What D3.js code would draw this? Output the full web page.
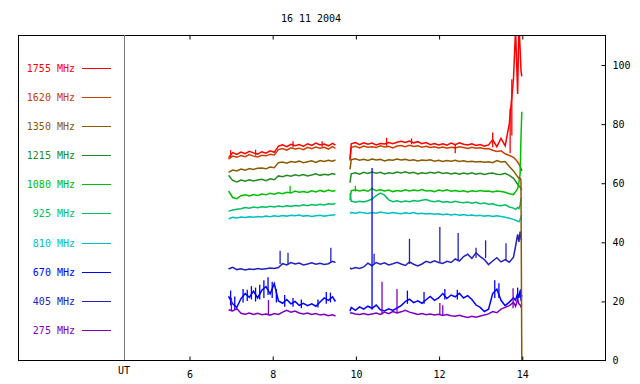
<!DOCTYPE html>
<html>
<head>
<meta charset="utf-8">
<script src="https://cdn.jsdelivr.net/npm/d3@7"></script>
<style>
  html, body { margin: 0; padding: 0; background: #fff; }
  svg { display: block; }
  text { font-family: "DejaVu Sans Mono", monospace; font-size: 10px; }
</style>
</head>
<body>
<svg id="chart" width="640" height="384"></svg>
<script>
// ---------------- DATA ----------------
const title = "16 11 2004";
const xTicks = [6, 8, 10, 12, 14];
const yTicks = [0, 20, 40, 60, 80, 100];

const legendNames = ["1755 MHz", "1620 MHz", "1350 MHz", "1215 MHz", "1080 MHz",
                     "925 MHz", "810 MHz", "670 MHz", "405 MHz", "275 MHz"];
const legendColors = ["#ff0000", "#c84000", "#8b5a00", "#228b22", "#00c000",
                      "#00c060", "#00c0c0", "#0000ff", "#2222c0", "#8000c0"];

// time grid (UT hours) of the two observing segments
const hours1 = [6.95, 7.05, 7.15, 7.25, 7.35, 7.45, 7.55, 7.65, 7.75, 7.85, 7.95, 8.05, 8.15, 8.25,
                8.35, 8.45, 8.55, 8.65, 8.75, 8.85, 8.95, 9.05, 9.15, 9.25, 9.35, 9.45, 9.52];
const hours2 = [9.87, 9.9, 10.0, 10.1, 10.2, 10.3, 10.4, 10.5, 10.6, 10.7, 10.8, 10.9, 11.0, 11.1,
                11.2, 11.3, 11.4, 11.5, 11.6, 11.7, 11.8, 11.9, 12.0, 12.1, 12.2, 12.3, 12.4, 12.5,
                12.6, 12.7, 12.8, 12.9, 13.0, 13.1, 13.2, 13.3, 13.4, 13.5, 13.6, 13.7, 13.8, 13.85,
                13.9, 13.93, 13.96, 13.98, 14.0];

// flux values (s.f.u.)
const f1755a = [68.5, 70.2, 69.6, 70.4, 69.8, 70.6, 70.1, 69.7, 70.5, 70.0, 70.8, 70.3, 72.4, 72.8,
                72.2, 73.0, 72.5, 72.9, 72.3, 73.2, 72.6, 73.4, 72.8, 73.1, 72.5, 73.3, 72.7];
const f1755b = [68.0, 73.2, 73.6, 72.9, 73.5, 73.0, 73.4, 72.8, 73.3, 73.1, 73.6, 73.2, 73.7, 74.0,
                73.6, 74.1, 73.5, 73.9, 73.2, 73.6, 72.9, 73.3, 72.8, 73.2, 72.7, 73.4, 72.9, 73.5,
                73.0, 72.8, 73.2, 72.6, 72.9, 72.4, 72.8, 74.5, 72.2, 75.0, 72.5, 80.0, 95.0, 112.0,
                90.0, 114.0, 105.0, 98.0, 96.0];
const f1620a = [68.0, 69.0, 68.6, 69.2, 68.8, 69.5, 69.0, 68.7, 69.3, 69.1, 69.6, 69.4, 71.2, 71.6,
                71.0, 71.8, 71.4, 71.7, 71.2, 72.0, 71.5, 72.1, 71.7, 72.0, 71.4, 72.2, 71.6];
const f1620b = [67.5, 72.0, 72.3, 71.8, 72.4, 72.0, 72.2, 71.9, 72.5, 72.1, 72.3, 71.8, 72.4, 72.6,
                72.2, 72.7, 72.3, 72.5, 72.0, 72.3, 71.9, 72.2, 71.8, 72.1, 71.7, 72.0, 71.8, 72.2,
                71.9, 71.6, 72.0, 71.7, 71.8, 71.5, 71.6, 71.0, 70.6, 70.8, 69.8, 69.2, 68.6, 67.9,
                67.0, 66.3, 65.5, 64.8, 64.0];
const f1350a = [63.5, 64.3, 64.0, 64.6, 64.2, 64.8, 64.5, 64.9, 65.0, 64.7, 65.3, 65.1, 66.8, 67.0,
                66.6, 67.2, 66.9, 67.3, 66.8, 67.1, 67.4, 66.9, 67.5, 67.2, 67.6, 67.3, 67.7];
const f1350b = [64.5, 67.8, 68.1, 67.6, 67.9, 67.5, 68.0, 67.7, 67.9, 67.4, 67.8, 67.6, 68.0, 67.7,
                67.9, 67.5, 67.8, 67.4, 67.7, 67.5, 67.8, 67.3, 67.6, 67.2, 67.5, 67.3, 67.6, 67.2,
                67.4, 67.1, 67.3, 67.0, 67.2, 66.9, 67.1, 66.8, 67.5, 67.0, 67.2, 65.5, 64.0, 63.0,
                62.0, 61.5, 61.5, 61.0, 0.0];
const f1215a = [62.5, 60.8, 60.3, 60.9, 60.5, 61.0, 60.6, 60.9, 61.2, 60.7, 61.3, 61.0, 62.3, 62.0,
                62.5, 62.2, 62.7, 62.4, 62.8, 62.3, 62.6, 63.0, 62.5, 62.9, 62.6, 63.1, 62.8];
const f1215b = [60.0, 63.0, 63.4, 62.9, 63.5, 63.1, 63.6, 63.2, 63.5, 63.0, 63.4, 63.1, 63.6, 63.3,
                63.7, 63.2, 63.5, 63.0, 63.4, 63.1, 63.5, 63.2, 63.6, 63.1, 63.4, 63.0, 63.3, 62.9,
                63.3, 63.0, 63.4, 62.9, 63.2, 62.8, 63.1, 63.3, 62.9, 62.8, 63.2, 62.5, 61.5, 60.5,
                59.5, 59.0, 58.5, 58.0, 57.5];
const f1080a = [57.2, 55.0, 54.6, 55.6, 55.9, 55.5, 56.0, 55.7, 56.2, 55.9, 56.4, 56.1, 56.6, 56.3,
                56.8, 56.5, 57.2, 56.8, 57.0, 56.7, 57.3, 56.9, 57.4, 57.0, 57.5, 57.1, 57.4];
const f1080b = [54.0, 57.3, 57.6, 57.2, 57.5, 57.1, 58.0, 57.3, 57.6, 57.2, 57.5, 57.0, 57.4, 57.1,
                57.6, 57.2, 57.5, 57.3, 57.7, 57.2, 57.4, 57.0, 57.5, 57.2, 57.6, 57.1, 57.4, 57.0,
                57.3, 56.9, 57.3, 57.0, 57.4, 57.1, 57.2, 56.9, 57.2, 57.0, 56.8, 56.3, 56.0, 57.0,
                58.0, 60.0, 63.0, 75.0, 84.0];
const f925a  = [50.3, 50.8, 51.0, 51.2, 51.6, 51.4, 51.8, 51.5, 51.9, 51.7, 52.0, 51.8, 52.1, 51.9,
                52.2, 52.0, 52.3, 52.1, 52.5, 52.2, 52.6, 52.4, 52.7, 52.5, 52.9, 52.7, 53.0];
const f925b  = [56.5, 53.8, 53.4, 53.7, 53.5, 53.9, 54.5, 55.6, 56.5, 55.8, 54.2, 53.6, 53.9, 53.5,
                53.8, 53.6, 54.0, 53.7, 54.1, 54.3, 53.8, 53.6, 53.9, 53.4, 53.6, 53.3, 53.7, 53.4,
                53.2, 53.5, 53.1, 53.4, 52.9, 53.1, 52.7, 52.9, 52.4, 52.2, 52.5, 51.8, 51.4, 51.0,
                51.6, 51.2, 52.5, 54.5, 55.0];
const f810a  = [47.8, 48.3, 48.1, 48.4, 48.2, 48.5, 48.3, 48.6, 48.4, 48.7, 48.5, 48.8, 48.6, 48.9,
                48.7, 49.0, 48.8, 49.1, 48.7, 48.9, 48.6, 48.8, 49.0, 48.7, 48.9, 49.1, 49.2];
const f810b  = [49.6, 49.9, 49.7, 50.0, 49.8, 49.6, 49.9, 49.7, 50.1, 49.8, 49.6, 49.9, 49.7, 49.5,
                49.8, 49.6, 49.9, 49.5, 49.7, 49.4, 49.6, 49.3, 49.5, 49.2, 49.4, 49.1, 49.3, 49.0,
                49.2, 48.9, 49.1, 48.8, 49.0, 48.7, 48.9, 48.6, 48.8, 48.6, 48.3, 48.0, 47.6, 47.3,
                47.0, 46.8, 47.5, 48.5, 49.0];
const f670a  = [21.5, 19.0, 17.8, 20.8, 22.5, 21.2, 23.3, 21.0, 23.6, 24.8, 22.4, 25.8, 20.0, 19.2,
                20.5, 19.0, 19.8, 18.5, 19.2, 18.4, 19.0, 18.2, 19.6, 21.0, 20.2, 21.4, 19.8];
const f670b  = [16.5, 17.8, 16.8, 18.0, 17.2, 18.2, 17.5, 18.6, 17.0, 16.6, 17.3, 16.8, 17.6, 18.4,
                19.8, 20.6, 19.4, 20.0, 19.2, 20.4, 21.5, 20.2, 21.0, 22.5, 20.8, 22.0, 21.4, 22.6,
                21.0, 21.8, 20.5, 18.6, 17.8, 16.4, 17.2, 22.5, 24.0, 20.2, 18.4, 19.6, 21.0, 20.2,
                22.4, 21.0, 23.6, 20.8, 22.0];
const f405a  = [30.8, 31.4, 30.6, 30.9, 30.5, 30.8, 30.6, 31.0, 30.7, 30.9, 31.1, 31.0, 31.3, 32.6,
                32.2, 33.0, 32.5, 32.8, 32.2, 32.5, 32.9, 32.4, 32.7, 32.3, 32.6, 33.4, 33.0];
const f405b  = [31.2, 30.8, 31.3, 31.0, 31.5, 32.8, 31.9, 33.0, 32.4, 32.9, 32.2, 32.6, 33.1, 32.5,
                32.0, 33.2, 32.4, 31.8, 32.5, 33.4, 32.9, 33.6, 33.0, 32.7, 33.4, 33.0, 34.2, 33.5,
                35.0, 35.8, 34.4, 36.3, 35.0, 34.0, 32.3, 33.5, 34.6, 33.2, 34.0, 33.1, 34.8, 38.5,
                42.5, 40.0, 43.5, 41.0, 40.5];
const f275a  = [17.0, 16.6, 17.4, 15.8, 15.5, 15.9, 15.4, 15.8, 15.3, 15.6, 15.2, 15.7, 15.4, 16.2,
                16.8, 16.2, 16.6, 15.9, 15.6, 15.9, 15.4, 15.7, 15.2, 15.5, 15.0, 15.3, 14.9];
const f275b  = [15.8, 16.0, 15.6, 15.4, 15.7, 15.3, 15.6, 15.9, 15.4, 16.2, 15.7, 16.4, 15.9, 16.3,
                16.8, 16.2, 15.8, 15.4, 15.7, 15.3, 15.6, 15.2, 15.5, 15.1, 15.4, 15.0, 14.8, 15.1,
                14.7, 14.4, 14.8, 14.5, 14.9, 15.2, 15.6, 16.4, 16.0, 17.2, 17.8, 18.4, 19.5, 18.2,
                20.5, 19.0, 18.6, 18.0, 18.2];

// short bursts / scatter of the 1-s samples: [UT hour, low, high]
const spikes1755 = [[7.0, 68.8, 71.0], [7.6, 69.2, 71.2], [8.5, 72.0, 74.0], [9.2, 72.2, 74.0],
                    [10.75, 72.5, 75.2], [11.35, 73.0, 75.0], [12.4, 70.0, 73.0], [13.3, 72.0, 77.0],
                    [13.72, 70.0, 85.0], [13.76, 76.0, 95.0]];
const spikes1080 = [[8.43, 56.5, 59.0], [10.0, 57.0, 59.0]];
const spikes670  = [[7.0, 18.5, 23.5], [7.1, 17.0, 21.5], [7.3, 19.5, 24.0], [7.4, 20.0, 23.8],
                    [7.5, 20.5, 25.0], [7.6, 19.8, 24.5], [7.7, 20.5, 25.5], [7.8, 21.0, 27.0],
                    [7.9, 22.0, 28.0], [8.0, 21.0, 26.5], [8.1, 19.5, 24.0], [8.3, 18.0, 22.0],
                    [8.5, 18.0, 21.0], [8.7, 17.5, 20.5], [9.1, 17.8, 20.5], [9.3, 19.0, 23.0],
                    [9.4, 19.5, 22.8], [10.4, 17.0, 65.0], [11.25, 19.0, 23.5], [11.65, 19.0, 23.0],
                    [12.15, 20.5, 24.0], [12.45, 20.5, 23.8], [13.35, 21.0, 27.0], [13.45, 21.0, 26.0],
                    [13.9, 20.0, 24.5], [13.98, 20.0, 24.0]];
const spikes405  = [[8.19, 32.5, 37.0], [8.38, 32.5, 36.3], [9.41, 33.0, 38.0], [10.45, 32.5, 36.0],
                    [11.3, 32.5, 41.0], [12.03, 33.0, 45.0], [12.47, 33.5, 43.0], [12.9, 34.5, 38.0],
                    [13.13, 34.5, 40.5], [13.62, 33.5, 39.5]];
const spikes275  = [[7.02, 16.5, 21.0], [7.91, 15.5, 20.3], [10.64, 15.5, 26.5], [11.0, 15.8, 24.0],
                    [12.03, 15.3, 19.3], [12.1, 15.2, 18.5], [13.79, 17.5, 24.3]];

// ---------------- CHART ----------------
const svg = d3.select("#chart");
const frame = {left: 18, right: 605, top: 35, bottom: 360};
const utX = 124;

const x = d3.scaleLinear().domain([6, 16]).range([189, 605]);
const y = d3.scaleLinear().domain([0, 110]).range([frame.bottom, frame.top]);

const series = [
  {i: 1, a: f1620a, b: f1620b, s: []},
  {i: 0, a: f1755a, b: f1755b, s: spikes1755},
  {i: 3, a: f1215a, b: f1215b, s: []},
  {i: 4, a: f1080a, b: f1080b, s: spikes1080},
  {i: 5, a: f925a,  b: f925b,  s: []},
  {i: 6, a: f810a,  b: f810b,  s: []},
  {i: 8, a: f405a,  b: f405b,  s: spikes405},
  {i: 7, a: f670a,  b: f670b,  s: spikes670},
  {i: 9, a: f275a,  b: f275b,  s: spikes275},
  {i: 2, a: f1350a, b: f1350b, s: []}
];

// title
svg.append("text").attr("x", 311).attr("y", 22).attr("text-anchor", "middle")
  .attr("fill", "#000").text(title);

// clip
svg.append("clipPath").attr("id", "plotclip").append("rect")
  .attr("x", utX).attr("y", frame.top).attr("width", frame.right - utX).attr("height", frame.bottom - frame.top);

const plot = svg.append("g").attr("clip-path", "url(#plotclip)");
const line = d3.line().x(d => x(d[0])).y(d => y(d[1]));

series.forEach(sr => {
  const col = legendColors[sr.i];
  [[hours1, sr.a], [hours2, sr.b]].forEach(([hs, vs]) => {
    plot.append("path").datum(hs.map((h, k) => [h, vs[k]]))
      .attr("d", line).attr("fill", "none").attr("stroke", col)
      .attr("stroke-width", 1.5).attr("stroke-linejoin", "miter");
  });
  plot.selectAll(null).data(sr.s).enter().append("line")
    .attr("x1", d => x(d[0])).attr("x2", d => x(d[0]))
    .attr("y1", d => y(d[1])).attr("y2", d => y(d[2]))
    .attr("stroke", col).attr("stroke-width", 1.3);
});

// frame
svg.append("rect").attr("x", frame.left + 0.5).attr("y", frame.top + 0.5)
  .attr("width", frame.right - frame.left).attr("height", frame.bottom - frame.top)
  .attr("fill", "none").attr("stroke", "#000").attr("stroke-width", 1);
svg.append("line").attr("x1", utX + 0.5).attr("x2", utX + 0.5)
  .attr("y1", frame.top).attr("y2", frame.bottom).attr("stroke", "#777").attr("stroke-width", 1);

// x axis bottom (inward ticks)
const xb = svg.append("g").attr("transform", `translate(0.5,${frame.bottom + 0.5})`)
  .call(d3.axisBottom(x).tickValues(xTicks).tickSizeInner(-4).tickSizeOuter(0).tickPadding(10));
xb.select(".domain").remove();
xb.selectAll("text").attr("font-family", "DejaVu Sans Mono").attr("font-size", 10).attr("fill", "#000");
xb.selectAll("line").attr("stroke", "#000");

// x axis top (inward ticks, no labels)
const xt = svg.append("g").attr("transform", `translate(0.5,${frame.top + 0.5})`)
  .call(d3.axisTop(x).tickValues(xTicks).tickSizeInner(-4).tickSizeOuter(0).tickFormat(""));
xt.select(".domain").remove();
xt.selectAll("line").attr("stroke", "#000");

svg.append("text").attr("x", utX).attr("y", 374).attr("text-anchor", "middle")
  .attr("fill", "#000").text("UT");

// y axis right
const yr = svg.append("g").attr("transform", `translate(${frame.right + 0.5},0.5)`)
  .call(d3.axisRight(y).tickValues(yTicks).tickSizeInner(-4).tickSizeOuter(0).tickPadding(7));
yr.select(".domain").remove();
yr.selectAll(".tick").filter(d => d === 0).select("line").remove();
yr.selectAll("text").attr("font-family", "DejaVu Sans Mono").attr("font-size", 10).attr("fill", "#000");
yr.selectAll("line").attr("stroke", "#000");

// legend
const legendY = d3.scalePoint().domain(legendNames).range([67.6, 330]);
const lg = svg.append("g");
legendNames.forEach((n, k) => {
  const yy = Math.round(legendY(n)) + 0.5;
  lg.append("text").attr("x", 75).attr("y", yy + 3.5).attr("text-anchor", "end")
    .attr("fill", legendColors[k]).text(n);
  lg.append("line").attr("x1", 82).attr("x2", 111).attr("y1", yy).attr("y2", yy)
    .attr("stroke", legendColors[k]).attr("stroke-width", 1);
});
</script>
</body>
</html>
